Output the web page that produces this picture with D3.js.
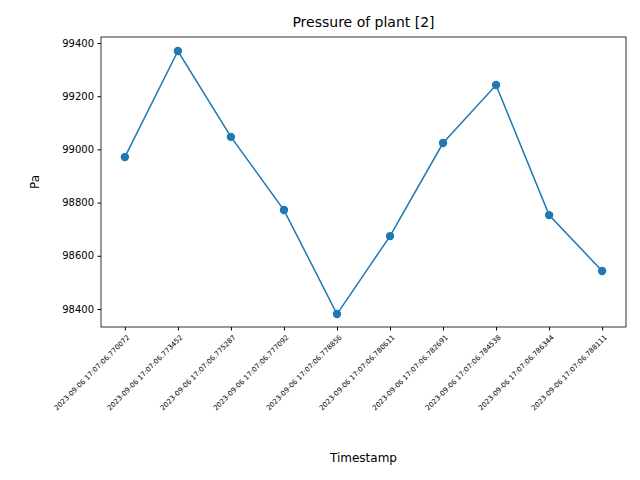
<!DOCTYPE html>
<html>
<head>
<meta charset="utf-8">
<script src="https://cdn.jsdelivr.net/npm/d3@7"></script>
<style>
  body { margin: 0; background: #fff; }
  text { font-family: "DejaVu Sans", sans-serif; }
</style>
</head>
<body>
<div id="chart"></div>
<script>
// timestamps on the x axis
var timestamps = [
  "2023-09-06 17:07:06.770072", "2023-09-06 17:07:06.773452",
  "2023-09-06 17:07:06.775287", "2023-09-06 17:07:06.777092",
  "2023-09-06 17:07:06.778856", "2023-09-06 17:07:06.780611",
  "2023-09-06 17:07:06.782691", "2023-09-06 17:07:06.784538",
  "2023-09-06 17:07:06.786344", "2023-09-06 17:07:06.788111"
];
// pressure in Pa
var pressure = [98971, 99370, 99047, 98772, 98381, 98674, 99024, 99242, 98753, 98543];
var yTicks = [98400, 98600, 98800, 99000, 99200, 99400];

var margin = {top: 37, right: 14, bottom: 153, left: 101},
  width = 640 - margin.left - margin.right,
  height = 480 - margin.top - margin.bottom;

var svg = d3.select("#chart")
  .append("svg")
    .attr("width", 640)
    .attr("height", 480)
  .append("g")
    .attr("transform", "translate(" + margin.left + "," + margin.top + ")");

var n = timestamps.length;
var pad = (n - 1) * 0.05;
var x = d3.scaleLinear().domain([-pad, n - 1 + pad]).range([0, width]);
var y = d3.scaleLinear().domain([98332.3, 99422.6]).range([height, 0]);

// x axis
var xAxis = svg.append("g")
  .attr("transform", "translate(0," + height + ")")
  .call(d3.axisBottom(x).tickValues(d3.range(n)).tickFormat(function(i) { return timestamps[i]; })
    .tickSize(3.5));
xAxis.selectAll("text")
  .style("font-size", "7px")
  .attr("text-anchor", "end")
  .attr("x", 0).attr("y", 0)
  .attr("dy", "0.35em")
  .attr("transform", "translate(3,9) rotate(-45)");

// y axis
svg.append("g")
  .call(d3.axisLeft(y).tickValues(yTicks).tickFormat(d3.format("d")).tickSize(3.5).tickPadding(3.5))
  .selectAll("text").style("font-size", "10px");

svg.selectAll(".domain").remove();
svg.append("rect")
  .attr("width", width).attr("height", height)
  .attr("fill", "none").attr("stroke", "#000").attr("stroke-width", 0.8);

// line
svg.append("path")
  .datum(pressure)
  .attr("fill", "none")
  .attr("stroke", "#1f77b4")
  .attr("stroke-width", 1.5)
  .attr("d", d3.line()
    .x(function(d, i) { return x(i); })
    .y(function(d) { return y(d); }));

svg.selectAll("circle")
  .data(pressure)
  .enter().append("circle")
    .attr("cx", function(d, i) { return x(i); })
    .attr("cy", function(d) { return y(d); })
    .attr("r", 4.2)
    .attr("fill", "#1f77b4");

// labels
svg.append("text")
  .attr("x", width / 2).attr("y", -10)
  .attr("text-anchor", "middle").style("font-size", "14px")
  .text("Pressure of plant [2]");
svg.append("text")
  .attr("x", width / 2).attr("y", 425)
  .attr("text-anchor", "middle").style("font-size", "12px")
  .text("Timestamp");
svg.append("text")
  .attr("transform", "translate(-62," + height / 2 + ") rotate(-90)")
  .attr("text-anchor", "middle").style("font-size", "12px")
  .text("Pa");
</script>
</body>
</html>
